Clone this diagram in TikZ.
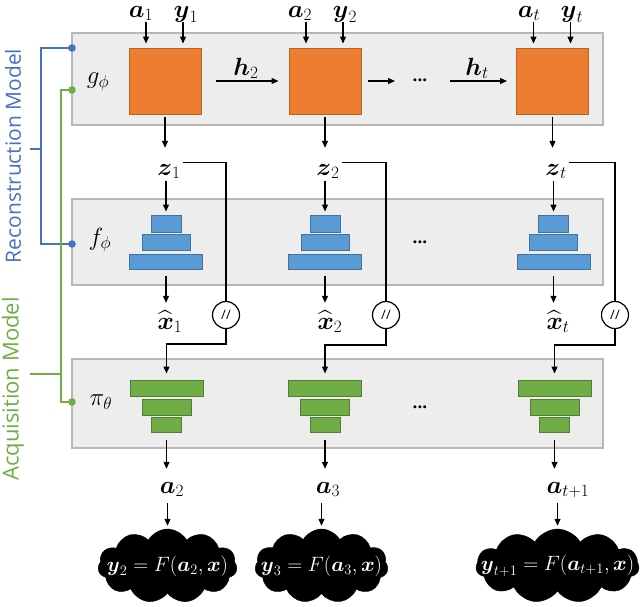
\documentclass[tikz,border=0pt]{standalone}
\usepackage{amsmath}
\usepackage{fontspec}
\newfontfamily\labelfont{Open Sans}
\usetikzlibrary{arrows.meta,shapes.symbols}
\definecolor{orng}{HTML}{ED7D31}
\definecolor{orngd}{HTML}{C0601F}
\definecolor{blu}{HTML}{5B9BD5}
\definecolor{blud}{HTML}{41719C}
\definecolor{grn}{HTML}{70AD47}
\definecolor{grnd}{HTML}{507E32}
\definecolor{boxfill}{HTML}{EDEDED}
\definecolor{boxline}{HTML}{B8B8B8}
\definecolor{recblue}{HTML}{4472C4}
\definecolor{acqgreen}{HTML}{70AD47}
\begin{document}
\begin{tikzpicture}[x=1pt,y=-1pt,
  arr/.style={-{Triangle[length=7pt,width=6pt]}, line width=1.2pt},
  conn/.style={line width=1.2pt},
  panel/.style={draw=boxline, fill=boxfill, line width=1.5pt, minimum width=531pt, inner sep=0},
  gbox/.style={draw=orngd, fill=orng, line width=1pt, minimum width=72pt, minimum height=66pt, inner sep=0},
  bbar/.style={draw=blud, fill=blu, line width=1pt, inner sep=0},
  pbar/.style={draw=grnd, fill=grn, line width=1pt, inner sep=0},
  ml/.style={font=\fontsize{23}{27}\selectfont, inner sep=0pt, text height=12pt, text depth=4pt, anchor=base},
  xl/.style={ml, text height=17pt},
  fl/.style={font=\fontsize{24}{28}\selectfont, inner sep=0pt},
  dotsl/.style={font=\labelfont\bfseries\fontsize{17}{18}\selectfont, inner sep=0pt},
  sw/.style={circle, draw, fill=white, line width=1.2pt, minimum size=27pt, inner sep=0pt, font=\labelfont\fontsize{13}{15}\selectfont},
  cl/.style={cloud, cloud puffs=11, cloud puff arc=120, fill=black, draw=black, minimum height=74pt, inner sep=0pt},
  cltext/.style={text=white, font=\fontsize{20}{24}\selectfont},
  side/.style={rotate=90, font=\labelfont\fontsize{21}{24}\selectfont}
]
\useasboundingbox (0,0) rectangle (640,606);

% panels
\node[panel, minimum height=92pt] (P1) at (337.5,79) {};
\node[panel, minimum height=86pt] (P2) at (337.5,242) {};
\node[panel, minimum height=89pt] (P3) at (337.5,403.5) {};

% function labels
\node[fl] (gl) at (98,82) {$g_\phi$};
\node[fl] (fl) at (100,240) {$f_\phi$};
\node[fl] (pl) at (101,402) {$\pi_\theta$};

% orange boxes
\node[gbox] (g1) at (165,81) {};
\node[gbox] (g2) at (325,81) {};
\node[gbox] (g3) at (552.5,81) {};

% top inputs
\node[ml] (a1) at (141,17) {$\boldsymbol{a}_1$};
\node[ml] (y1) at (186,17) {$\boldsymbol{y}_1$};
\node[ml] (a2) at (300,17) {$\boldsymbol{a}_2$};
\node[ml] (y2) at (345,17) {$\boldsymbol{y}_2$};
\node[ml] (at) at (529,17) {$\boldsymbol{a}_t$};
\node[ml] (yt) at (572,17) {$\boldsymbol{y}_t$};
\foreach \g/\a/\y in {g1/a1/y1, g2/a2/y2, g3/at/yt}{
  \draw[arr, shorten <=1pt, shorten >=4pt] ([xshift=-19pt]\g.north |- \a.south) -- ([xshift=-19pt]\g.north);
  \draw[arr, shorten <=1pt, shorten >=4pt] ([xshift=18pt]\g.north |- \y.south) -- ([xshift=18pt]\g.north);
}

% recurrence
\node[ml] (h2) at (246,75) {$\boldsymbol{h}_2$};
\node[ml] (ht) at (477,75) {$\boldsymbol{h}_t$};
\node[dotsl] (dg) at (420,80) {...};
\draw[arr, shorten <=14pt, shorten >=10pt] (g1.east) -- (g2.west);
\draw[arr, shorten <=6pt, shorten >=25pt] (g2.east) -- (dg.center |- g2.east);
\draw[arr, shorten <=30pt, shorten >=9pt] (dg.center |- g3.west) -- (g3.west);

% z labels
\node[ml] (z1) at (169,175) {$\boldsymbol{z}_1$};
\node[ml] (z2) at (328,175) {$\boldsymbol{z}_2$};
\node[ml] (zt) at (556,175) {$\boldsymbol{z}_t$};

% blue stacks
\foreach \i/\x in {1/166, 2/325, 3/553.5}{
  \node[bbar, minimum width=30pt, minimum height=17pt] (b\i t) at (\x,223.5) {};
  \node[bbar, minimum width=48pt, minimum height=16pt] (b\i m) at (\x,242.5) {};
  \node[bbar, minimum width=73pt, minimum height=15pt] (b\i b) at (\x,261.5) {};
}
\node[dotsl] (db) at (420,242) {...};

% green stacks
\foreach \i/\x in {1/166.5, 2/325, 3/554.5}{
  \node[pbar, minimum width=73pt, minimum height=16pt] (p\i t) at (\x,388) {};
  \node[pbar, minimum width=49pt, minimum height=16pt] (p\i m) at (\x,407) {};
  \node[pbar, minimum width=30pt, minimum height=15pt] (p\i b) at (\x,424.5) {};
}
\node[dotsl] (dp) at (420,407) {...};

% xhat labels
\node[xl] (x1) at (170,329) {$\widehat{\boldsymbol{x}}_1$};
\node[xl] (x2) at (330,329) {$\widehat{\boldsymbol{x}}_2$};
\node[xl] (x3) at (558,329) {$\widehat{\boldsymbol{x}}_t$};

% switches
\node[sw] (s1) at (226,315) {//};
\node[sw] (s2) at (386,315) {//};
\node[sw] (s3) at (615,315) {//};
\coordinate (k1) at (226,344);
\coordinate (k2) at (386,345);
\coordinate (k3) at (615,345);

% action labels
\node[ml] (n1) at (172,493) {$\boldsymbol{a}_2$};
\node[ml] (n2) at (328,493) {$\boldsymbol{a}_3$};
\node[ml] (n3) at (568,493) {$\boldsymbol{a}_{t+1}$};

% clouds
\node[cl, minimum width=139pt, label={[cltext]center:$\boldsymbol{y}_2=F(\boldsymbol{a}_2,\boldsymbol{x})$}] (c1) at (167.5,566) {};
\node[cl, minimum width=133pt, label={[cltext]center:$\boldsymbol{y}_3=F(\boldsymbol{a}_3,\boldsymbol{x})$}] (c2) at (321.5,566) {};
\node[cl, minimum width=163pt, label={[cltext]center:$\boldsymbol{y}_{t+1}=F(\boldsymbol{a}_{t+1},\boldsymbol{x})$}] (c3) at (557.5,566) {};

% column connectors
\foreach \i/\z/\n in {1/z1/n1, 2/z2/n2, 3/zt/n3}{
  \draw[arr, shorten <=2pt, shorten >=15pt] (g\i.south) -- (g\i.south |- \z.north);
  \draw[arr, shorten <=2pt, shorten >=3pt] (\z.south -| b\i t.north) -- (b\i t.north);
  \draw[arr, shorten <=6pt, shorten >=9pt] (b\i b.south) -- (b\i b.south |- x\i.north);
  \draw[conn, shorten <=2pt] (\z.north east) -| (s\i.north);
  \draw[arr, shorten >=6pt] (s\i.south) -- (k\i) -| (p\i t.north);
  \draw[arr, shorten <=7pt, shorten >=12pt] (p\i b.south) -- (p\i b.south |- \n.north);
  \draw[arr, shorten <=6pt, shorten >=3pt] (\n.south -| c\i.north) -- (c\i.north);
}

% reconstruction bracket
\coordinate (rb1) at (72,48);
\coordinate (rb2) at (72,244);
\coordinate (rbm) at (41,149);
\draw[recblue, line width=1.3pt] (rb1) -- (41,48) -- (41,244) -- (rb2);
\draw[recblue, line width=1.3pt] (rbm) -- ++(-11,0);
\fill[recblue] (rb1) circle (3.8pt) (rb2) circle (3.8pt);
\node[side, text=recblue] (rm) at (13,156) {Reconstruction Model};

% acquisition bracket
\coordinate (ab1) at (72,90);
\coordinate (ab2) at (72,402);
\coordinate (abm) at (61,374);
\draw[acqgreen, line width=1.3pt] (ab1) -- (61,90) -- (61,402) -- (ab2);
\draw[acqgreen, line width=1.3pt] (abm) -- ++(-31,0);
\fill[acqgreen] (ab1) circle (3.8pt) (ab2) circle (3.8pt);
\node[side, text=acqgreen, font=\labelfont\fontsize{22}{24}\selectfont] (am) at (13,389) {Acquisition Model};
\end{tikzpicture}
\end{document}
